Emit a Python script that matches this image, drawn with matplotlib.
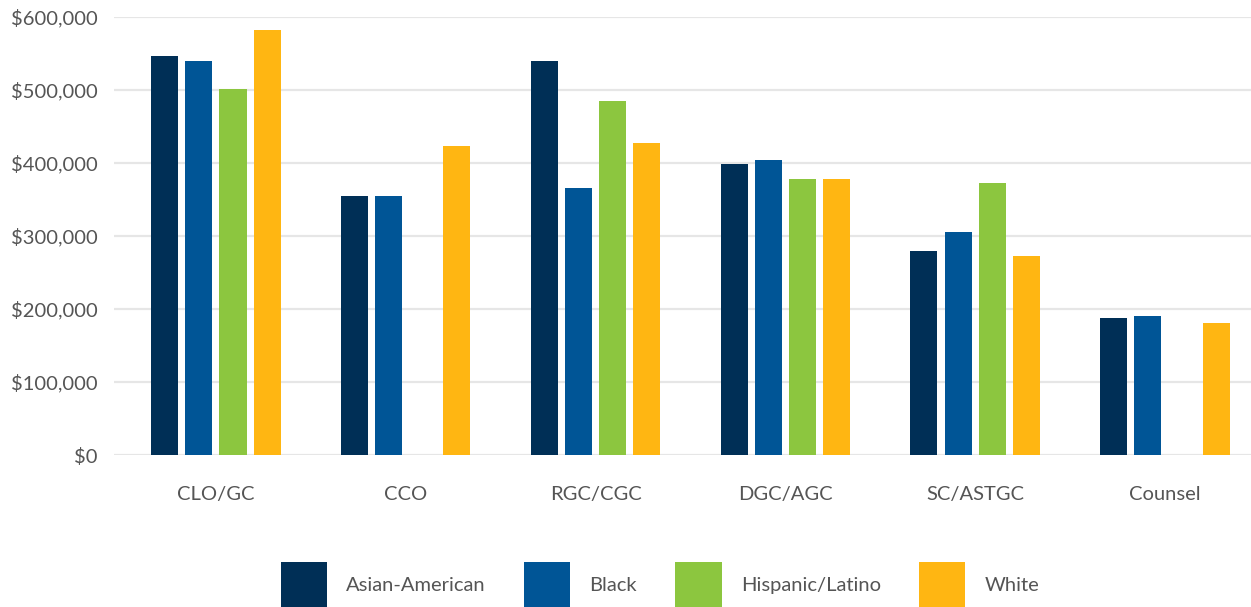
import numpy as np
import matplotlib.pyplot as plt
from matplotlib.patches import Patch
from matplotlib.ticker import FuncFormatter

plt.rcParams['font.family'] = ['Lato', 'DejaVu Sans']

roles = ['CLO/GC', 'CCO', 'RGC/CGC', 'DGC/AGC', 'SC/ASTGC', 'Counsel']
groups = ['Asian-American', 'Black', 'Hispanic/Latino', 'White']
asian = [546000, 354000, 539000, 398000, 279000, 187000]
black = [539000, 354000, 365000, 404000, 305000, 190000]
hispanic = [501000, np.nan, 484000, 378000, 372000, np.nan]
white = [581000, 423000, 427000, 378000, 272000, 181000]
colors = ['#002f56', '#005596', '#8cc63f', '#ffb612']

fig = plt.figure(figsize=(12.51, 6.07), dpi=100)
ax = fig.add_axes([0.0911, 0.2504, 0.9089, 0.7224])

x = np.arange(len(roles))
width = 0.1425
step = 0.18
for i, (vals, c) in enumerate(zip([asian, black, hispanic, white], colors)):
    ax.bar(x + (i - 1.5) * step, vals, width=width, color=c, zorder=3)

ax.set_xlim(-0.537, 5.453)
ax.set_ylim(0, 600000)
ax.set_yticks(np.arange(0, 600001, 100000))
ax.yaxis.set_major_formatter(FuncFormatter(lambda v, p: f'${v:,.0f}'))
ax.set_xticks(x)
ax.set_xticklabels(roles)
ax.grid(axis='y', color='#e6e6e6', linewidth=1.6, zorder=0)
for s in ax.spines.values():
    s.set_visible(False)
ax.tick_params(axis='y', length=0, pad=12, labelsize=14.5, labelcolor='#555555')
ax.tick_params(axis='x', length=0, pad=22, labelsize=14.5, labelcolor='#555555')

# square legend swatches, one row under the plot
handles = [Patch(facecolor=c, label=g) for g, c in zip(groups, colors)]
fig.legend(handles=handles, loc='center', bbox_to_anchor=(660 / 1251, 1 - 585 / 607),
           ncol=4, frameon=False, fontsize=14.5, labelcolor='#555555',
           handlelength=2.3, handleheight=3.12, handletextpad=0.95, columnspacing=1.9)

fig.savefig('out.png', dpi=100)
